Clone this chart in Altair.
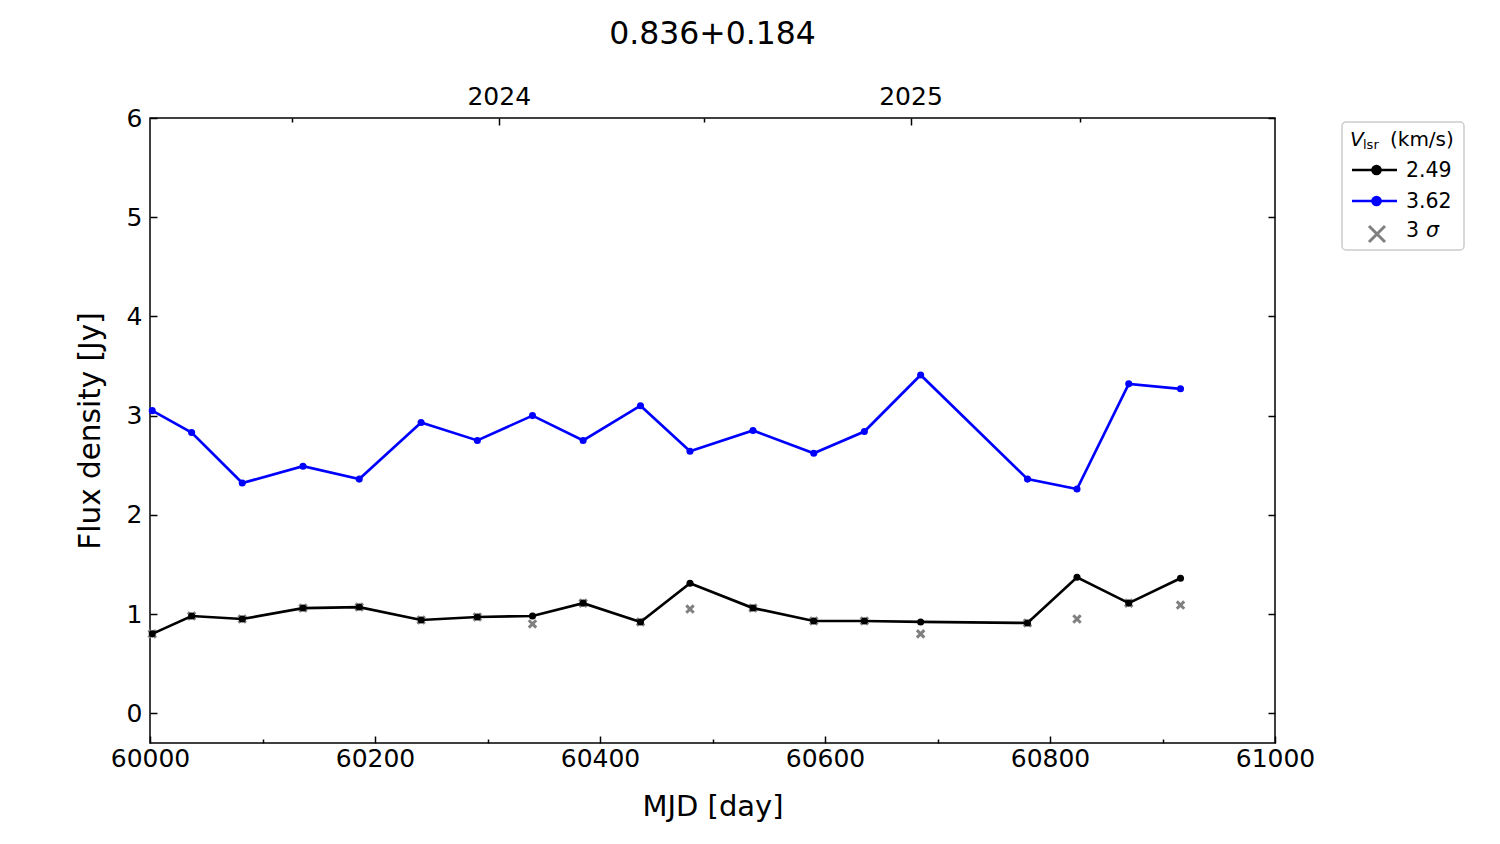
import altair as alt
import pandas as pd

# ---- data ----
mjd = [60002, 60037, 60082, 60136, 60186, 60241, 60291, 60340, 60385, 60436,
       60480, 60536, 60590, 60635, 60685, 60780, 60824, 60870, 60916]
flux_249 = [0.80, 0.98, 0.95, 1.06, 1.07, 0.94, 0.97, 0.98, 1.11, 0.92,
            1.31, 1.06, 0.93, 0.93, 0.92, 0.91, 1.37, 1.11, 1.36]
flux_362 = [3.05, 2.83, 2.32, 2.49, 2.36, 2.93, 2.75, 3.00, 2.75, 3.10,
            2.64, 2.85, 2.62, 2.84, 3.41, 2.36, 2.26, 3.32, 3.27]
sigma3 = [0.80, 0.98, 0.95, 1.06, 1.07, 0.94, 0.97, 0.90, 1.11, 0.92,
          1.05, 1.06, 0.93, 0.93, 0.80, 0.91, 0.95, 1.11, 1.09]

x_major = [60000, 60200, 60400, 60600, 60800, 61000]
x_minor = [60100, 60300, 60500, 60700, 60900]
y_ticks = [0, 1, 2, 3, 4, 5, 6]
year_mjd = [60310, 60676]
year_labels = ["2024", "2025"]
year_minor = [60126, 60492, 60827]
series_labels = ["2.49", "3.62"]
series_colors = ["black", "blue"]
sigma_label = ["3", "σ"]
title_text = "0.836+0.184"

df = pd.DataFrame({"mjd": mjd, "f249": flux_249, "f362": flux_362, "s3": sigma3})

FONT = "DejaVu Sans"
xs = alt.Scale(domain=[60000, 61000], nice=False, zero=False)
ys = alt.Scale(domain=[-0.3, 6], nice=False, zero=False)
MAJ = 7
MIN = 4
XPATH = "M-1,-1L1,1M-1,1L1,-1"
LW = 2.7


def ax(**kw):
    base = dict(domain=False, grid=False, tickColor="black", tickWidth=1.5,
                labelColor="black", labelFont=FONT, labelFontSize=25,
                titleFont=FONT, titleFontSize=29, titleFontWeight="normal",
                titleColor="black", labelFlush=False)
    base.update(kw)
    return alt.Axis(**base)


year_expr = " : ".join(
    f"datum.value == {m} ? '{l}'" for m, l in zip(year_mjd, year_labels)
) + " : ''"

ax_bottom = ax(orient="bottom", values=x_major, format="d", offset=-MAJ, tickSize=MAJ,
               labelPadding=3, title="MJD [day]", titlePadding=21)
ax_bottom_minor = ax(orient="bottom", values=x_minor, offset=-MIN, tickSize=MIN,
                     labels=False, title=None)
ax_top = ax(orient="top", values=year_mjd, labelExpr=year_expr, offset=-MAJ,
            tickSize=MAJ, labelPadding=9, title=None)
ax_top_minor = ax(orient="top", values=year_minor, offset=-MIN, tickSize=MIN,
                  labels=False, title=None)
ax_left = ax(orient="left", values=y_ticks, offset=-MAJ, tickSize=MAJ, labelPadding=8,
             title="Flux density [Jy]", titleFontSize=29.5, titlePadding=21)
ax_right = ax(orient="right", values=y_ticks, offset=-MAJ, tickSize=MAJ,
              labels=False, title=None)

base = alt.Chart(df)

crosses = base.mark_point(shape=XPATH, filled=False, stroke="#808080",
                          strokeWidth=3, size=55, opacity=1).encode(
    x=alt.X("mjd:Q", scale=xs, axis=ax_bottom),
    y=alt.Y("s3:Q", scale=ys, axis=ax_left),
)
black_line = base.mark_line(color="black", strokeWidth=LW).encode(
    x=alt.X("mjd:Q", scale=xs, axis=ax_bottom_minor),
    y=alt.Y("f249:Q", scale=ys, axis=ax_right),
)
black_pts = base.mark_point(filled=True, color="black", size=50, opacity=1).encode(
    x=alt.X("mjd:Q", scale=xs, axis=ax_top),
    y=alt.Y("f249:Q", scale=ys, axis=None),
)
blue_line = base.mark_line(color="blue", strokeWidth=LW).encode(
    x=alt.X("mjd:Q", scale=xs, axis=ax_top_minor),
    y=alt.Y("f362:Q", scale=ys, axis=None),
)
blue_pts = base.mark_point(filled=True, color="blue", size=50, opacity=1).encode(
    x=alt.X("mjd:Q", scale=xs, axis=None),
    y=alt.Y("f362:Q", scale=ys, axis=None),
)

# ---- legend (drawn by hand so the title can carry a subscript) ----
one = pd.DataFrame({"k": [0]})
LX0, LX1, LY0, LY1 = 1192, 1314, 4, 132
leg = [
    alt.Chart(one).mark_rect(fill="white", stroke="#cccccc", strokeWidth=1.5,
                             cornerRadius=4).encode(
        x=alt.value(LX0), x2=alt.value(LX1), y=alt.value(LY0), y2=alt.value(LY1)),
    alt.Chart(one).mark_text(text="V", font=FONT, fontSize=20, fontStyle="italic",
                             align="left", baseline="alphabetic", color="black").encode(
        x=alt.value(1200), y=alt.value(28)),
    alt.Chart(one).mark_text(text="lsr", font=FONT, fontSize=13,
                             align="left", baseline="alphabetic", color="black").encode(
        x=alt.value(1213), y=alt.value(30.5)),
    alt.Chart(one).mark_text(text="(km/s)", font=FONT, fontSize=20,
                             align="left", baseline="alphabetic", color="black").encode(
        x=alt.value(1240), y=alt.value(28)),
]
row_y = [52, 83]
for lab, col, yy in zip(series_labels, series_colors, row_y):
    leg += [
        alt.Chart(one).mark_rule(color=col, strokeWidth=LW).encode(
            x=alt.value(1202), x2=alt.value(1247), y=alt.value(yy)),
        alt.Chart(one).mark_point(filled=True, color=col, size=113, opacity=1).encode(
            x=alt.value(1226.5), y=alt.value(yy)),
        alt.Chart(one).mark_text(text=lab, font=FONT, fontSize=20.5, align="left",
                                 baseline="alphabetic", color="black").encode(
            x=alt.value(1256), y=alt.value(yy + 7.3)),
    ]
leg += [
    alt.Chart(one).mark_point(shape=XPATH, filled=False, stroke="#808080",
                              strokeWidth=3, size=256, opacity=1).encode(
        x=alt.value(1227), y=alt.value(116)),
    alt.Chart(one).mark_text(text=sigma_label[0], font=FONT, fontSize=20.5, align="left",
                             baseline="alphabetic", color="black").encode(
        x=alt.value(1256), y=alt.value(118.5)),
    alt.Chart(one).mark_text(text=sigma_label[1], font=FONT, fontSize=20.5, align="left",
                             fontStyle="italic", baseline="alphabetic", color="black").encode(
        x=alt.value(1276), y=alt.value(118.5)),
]

chart = alt.layer(
    crosses, black_line, black_pts, blue_line, blue_pts, *leg
).resolve_axis(
    x="independent", y="independent"
).properties(
    width=1125, height=625,
    title=alt.TitleParams(text=title_text, font=FONT, fontSize=31.5, fontWeight="normal",
                          color="black", anchor="middle", offset=34),
    autosize=alt.AutoSizeParams(type="none"),
    padding={"left": 142, "top": 110, "right": 200, "bottom": 85},
).configure(
    font=FONT
).configure_view(
    stroke="black", strokeWidth=1.5
)

chart.save("out.html", embed_options={"renderer": "svg", "actions": False})
